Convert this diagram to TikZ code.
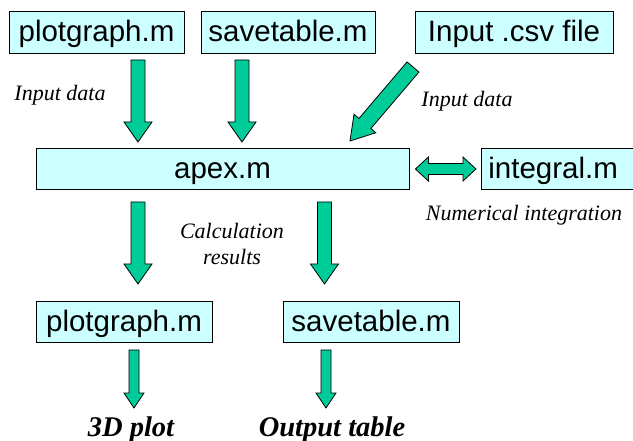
\documentclass[tikz,border=0pt]{standalone}
\usepackage{fontspec}
\setmainfont{Liberation Serif}
\newfontfamily\boxfont{Liberation Sans}
\usetikzlibrary{calc}

\definecolor{boxcyan}{HTML}{CCFFFF}
\definecolor{arrowgreen}{HTML}{00CC99}

\tikzset{
  mfile/.style = {draw, line width=0.8pt, fill=boxcyan, text height=30pt, text depth=11.5pt, inner sep=0pt,
                  font=\boxfont\fontsize{29.5}{32}\selectfont},
  note/.style = {font=\itshape\fontsize{22}{26}\selectfont, align=center},
  result/.style = {font=\bfseries\itshape\fontsize{28.5}{32}\selectfont, anchor=base},
  fatarrow/.style = {draw, line width=0.8pt, fill=arrowgreen, line join=miter}
}

% block arrow: start, tip, shaft half width, head half width, head length
\newcommand{\fatarrow}[5]{%
  \coordinate (hb) at ($(#2)!#5!(#1)$);
  \draw[fatarrow] ($(#1)!#3!90:(#2)$) -- ($(hb)!#3!90:(#2)$) -- ($(hb)!#4!90:(#2)$) -- (#2)
    -- ($(hb)!#4!-90:(#2)$) -- ($(hb)!#3!-90:(#2)$) -- ($(#1)!#3!-90:(#2)$) -- cycle;
}
\newcommand{\dblarrow}[5]{%
  \coordinate (ha) at ($(#1)!#5!(#2)$);
  \coordinate (hb) at ($(#2)!#5!(#1)$);
  \draw[fatarrow] (#1) -- ($(ha)!#4!90:(#2)$) -- ($(ha)!#3!90:(#2)$) -- ($(hb)!#3!90:(#2)$)
    -- ($(hb)!#4!90:(#2)$) -- (#2) -- ($(hb)!#4!-90:(#2)$) -- ($(hb)!#3!-90:(#2)$)
    -- ($(ha)!#3!-90:(#2)$) -- ($(ha)!#4!-90:(#2)$) -- cycle;
}

\begin{document}
\begin{tikzpicture}[x=1pt, y=1pt]
\useasboundingbox (0,0) rectangle (633,-441);

\node[mfile, minimum width=175pt] (pgtop) at (96.5,-32.5) {plotgraph.m};
\node[mfile, minimum width=174pt] (sttop) at (288,-32.5) {savetable.m};
\node[mfile, minimum width=198pt] (csv) at (514,-32.5) {Input .csv file};
\node[mfile, minimum width=373pt] (apex) at (222.5,-169) {apex.m};
\node[mfile, anchor=west, text width=150pt, inner xsep=7pt, align=left] (integ) at (481,-169) {integral.m};
\node[mfile, minimum width=176pt] (pgbot) at (124,-322) {plotgraph.m};
\node[mfile, minimum width=176pt] (stbot) at (371,-322) {savetable.m};

\node[note] (in1) at (60,-95) {Input data};
\node[note] (in2) at (467,-101) {Input data};
\node[note] (calc) at (232,-244) {Calculation\\results};
\node[note] (numint) at (524,-215) {Numerical integration};
\node[result] (plot3d) at (131,-436) {3D plot};
\node[result] (outtab) at (332,-436) {Output table};

\coordinate (a1s) at (138,-60);    \coordinate (a1e) at (138,-142);
\coordinate (a2s) at (242,-60);    \coordinate (a2e) at (242,-142);
\coordinate (a3s) at (413,-67);    \coordinate (a3e) at (350,-141);
\coordinate (a4s) at (138,-202);   \coordinate (a4e) at (138,-284);
\coordinate (a5s) at (324.5,-202); \coordinate (a5e) at (324.5,-284);
\coordinate (a6s) at (134,-350);   \coordinate (a6e) at (134,-408);
\coordinate (a7s) at (326,-350);   \coordinate (a7e) at (326,-408);

\fatarrow{a1s}{a1e}{7pt}{14pt}{20pt}
\fatarrow{a2s}{a2e}{7pt}{14pt}{20pt}
\fatarrow{a3s}{a3e}{7.8pt}{14.3pt}{23pt}
\fatarrow{a4s}{a4e}{7pt}{14pt}{20pt}
\fatarrow{a5s}{a5e}{7pt}{14pt}{20pt}
\fatarrow{a6s}{a6e}{5pt}{10pt}{15pt}
\fatarrow{a7s}{a7e}{5pt}{10pt}{15pt}

\coordinate (d1) at ([xshift=6pt]apex.east);
\coordinate (d2) at ([xshift=-5pt]integ.west);
\dblarrow{d1}{d2}{5.5pt}{12pt}{13pt}
\end{tikzpicture}
\end{document}
